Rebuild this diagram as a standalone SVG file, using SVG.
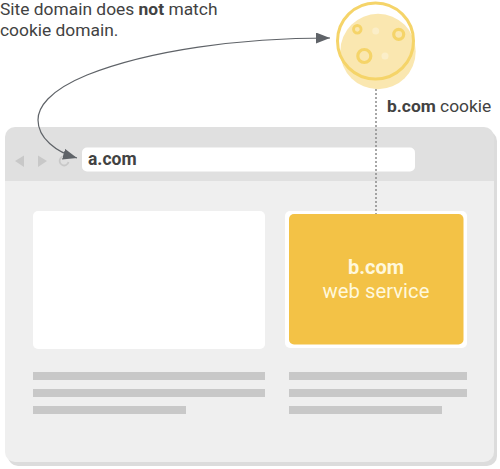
<svg xmlns="http://www.w3.org/2000/svg" width="500" height="469" viewBox="0 0 500 469">
<style>
text{font-family:Roboto,"Liberation Sans",sans-serif}
.cap{font-size:17.400px;fill:#424242}
.bar{fill:#c8c8c8}
.b{font-weight:700}
.ring{fill:none;stroke:#f5d469}
</style>
<defs>
<marker id="ah" markerUnits="userSpaceOnUse" markerWidth="15" markerHeight="11" refX="14" refY="5.500" orient="auto-start-reverse"><path d="M0 0L14 5.500L0 11z" fill="#5f6368"/></marker>
</defs>
<rect width="500" height="469" fill="#fff"/>
<g id="browser">
<rect x="8" y="131" width="489" height="335" rx="10" fill="#dcdcdc"/>
<path d="M5 181H494V452a10 10 0 0 1-10 10H15a10 10 0 0 1-10-10z" fill="#efefef"/>
<path d="M5 137a10 10 0 0 1 10-10H484a10 10 0 0 1 10 10V181H5z" fill="#e0e0e0"/>
<path d="M15 161L24 155.500V167z" fill="#c8c8c8"/>
<path d="M47 161L38 155.500V167z" fill="#c8c8c8"/>
<path d="M67.500 158A4.500 4.500 0 1 0 68.500 162" fill="none" stroke="#c8c8c8" stroke-width="1.800"/>
</g>
<g id="address-bar">
<rect x="82" y="147.500" width="333" height="24" rx="5" fill="#fff"/>
<text x="88" y="165" class="b" font-size="17.500" fill="#424242">a.com</text>
</g>
<g id="left-panel"><rect x="33" y="211" width="232" height="138" rx="5" fill="#fff"/></g>
<g id="web-service">
<rect x="285" y="211" width="182" height="137" rx="5" fill="#fff"/>
<rect x="289" y="214" width="174.500" height="130.500" rx="5" fill="#f3c246"/>
<text x="376" y="274" text-anchor="middle" class="b" font-size="20" fill="#fff8dc">b.com</text>
<text x="376" y="298" text-anchor="middle" font-size="20.300" fill="#fff8dc">web service</text>
</g>
<g id="text-lines">
<rect class="bar" x="33" y="372" width="232" height="8"/>
<rect class="bar" x="33" y="389" width="232" height="8"/>
<rect class="bar" x="33" y="406" width="153" height="8"/>
<rect class="bar" x="289" y="372" width="178" height="8"/>
<rect class="bar" x="289" y="389" width="178" height="8"/>
<rect class="bar" x="289" y="406" width="153" height="8"/>
</g>
<g id="connectors">
<path d="M330 38C240 38 150 50 87 75C48 91 38 108 38 120C38 138 56 152 77 158" fill="none" stroke="#5f6368" stroke-width="1.200" marker-start="url(#ah)" marker-end="url(#ah)"/>
<path d="M376 77V214" fill="none" stroke="#8a8a8a" stroke-width="1.500" stroke-dasharray="2 2"/>
</g>
<g id="cookie">
<circle cx="378" cy="51.500" r="37.700" fill="#fae7b0"/>
<circle cx="375.500" cy="41" r="38" fill="none" stroke="#f5d469" stroke-width="3"/>
<circle class="ring" cx="357.300" cy="29.300" r="3.800" stroke-width="2.800"/>
<circle class="ring" cx="398.700" cy="34.300" r="5" stroke-width="3.200"/>
<circle class="ring" cx="364.300" cy="56" r="6.500" stroke-width="3.200"/>
<circle cx="375.700" cy="31" r="3.500" fill="#fbeec8"/>
<circle cx="385" cy="56" r="3.500" fill="#fbeec8"/>
</g>
<g id="labels">
<text class="cap" x="0" y="15">Site domain does <tspan class="b">not</tspan> match</text>
<text class="cap" x="0" y="36">cookie domain.</text>
<text class="cap" x="387" y="112"><tspan class="b">b.com</tspan> cookie</text>
</g>
</svg>
